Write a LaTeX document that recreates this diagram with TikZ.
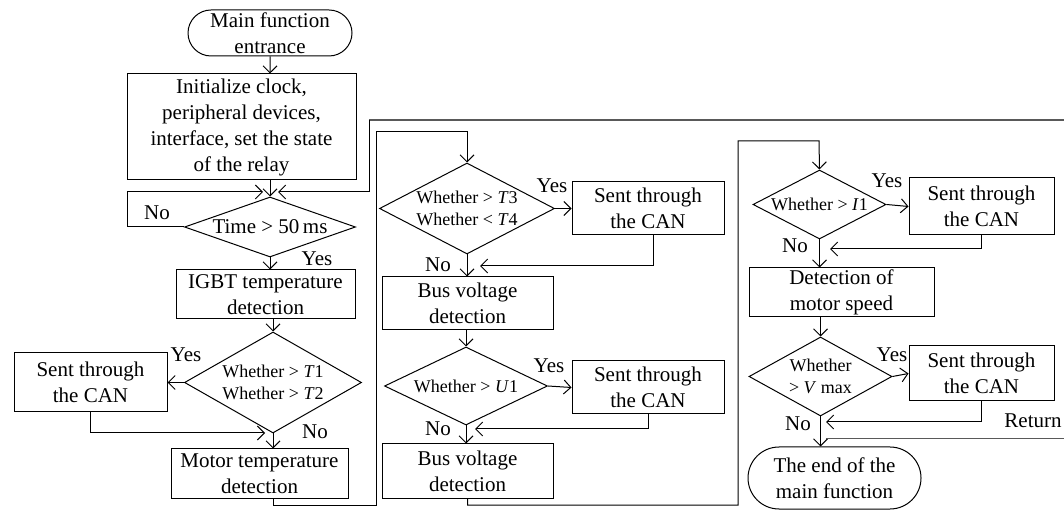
\documentclass[tikz,border=0pt]{standalone}
\usepackage{fontspec}
\setmainfont{Liberation Serif}
\usetikzlibrary{arrows.meta,shapes.geometric,shapes.misc}

\begin{document}
\begin{tikzpicture}[x=0.5pt,y=-0.5pt,>={Straight Barb[length=3.5pt,width=7pt]},line width=0.5pt,
every node/.style={font=\fontsize{10.5}{13}\selectfont,align=center,inner sep=0pt},
sz/.style 2 args={minimum width=#1pt,minimum height=#2pt},
box/.style={draw,rectangle},
term/.style={draw,rounded rectangle},
dec/.style={draw,diamond,font=\fontsize{9}{11}\selectfont},
ret/.style={line width=1pt,gray!70!black}]
\useasboundingbox (0,0) rectangle (1064,512);
\node[term,sz={82}{23}] (start) at (270,33) {Main function\\entrance};
\node[box,sz={114.5}{53}] (init) at (241.5,127) {Initialize clock,\\peripheral devices,\\interface, set the state\\of the relay};
\node[dec,sz={85.5}{30},aspect=2.85,font=\fontsize{10.5}{13}\selectfont] (time) at (270,227) {Time > 50\,ms};
\node[box,sz={89.5}{24.5}] (igbt) at (265.5,294.5) {IGBT temperature\\detection};
\node[dec,sz={88.5}{50.5},aspect=1.75] (t12) at (273,382.5) {Whether > \textit{T}1\\Whether > \textit{T}2};
\node[box,sz={76.5}{29.5}] (sa) at (90.5,382.5) {Sent through\\the CAN};
\node[box,sz={88.5}{24.5}] (motor) at (259.5,473.5) {Motor temperature\\detection};
\node[dec,sz={87.5}{45.5},aspect=1.92] (t34) at (467,208.5) {Whether > \textit{T}3\\Whether < \textit{T}4};
\node[box,sz={76}{26.5}] (sb) at (648,208.5) {Sent through\\the CAN};
\node[box,sz={85.5}{26.5}] (bus1) at (467.5,303.5) {Bus voltage\\detection};
\node[dec,sz={81.5}{39},aspect=2.09] (u1) at (466,386) {Whether > \textit{U}1};
\node[box,sz={76}{26.5}] (sc) at (648,387.5) {Sent through\\the CAN};
\node[box,sz={85.5}{27}] (bus2) at (467.5,471) {Bus voltage\\detection};
\node[dec,sz={66.5}{34.5},aspect=1.93] (i1) at (819.5,204.5) {Whether > \textit{I}1};
\node[box,sz={72.5}{28.5}] (sd) at (981.5,206.5) {Sent through\\the CAN};
\node[box,sz={92.5}{24.5}] (det) at (841.5,292.5) {Detection of\\motor speed};
\node[dec,sz={71.5}{39.5},aspect=1.81] (vm) at (820.5,376.5) {Whether\\> \textit{V} max};
\node[box,sz={72.5}{27.5}] (se) at (981.5,373.5) {Sent through\\the CAN};
\node[term,sz={86.5}{31}] (fin) at (834.5,478) {The end of the\\main function};
\node (no1) at (157,213) {No};
\node (yes1) at (317,259) {Yes};
\node (yes2) at (186,355) {Yes};
\node (no2) at (315,432) {No};
\node (yes3) at (552,186) {Yes};
\node (no3) at (438,265) {No};
\node (yes4) at (549,366) {Yes};
\node (no4) at (438,429) {No};
\node (yes5) at (887,181) {Yes};
\node (no5) at (795,246) {No};
\node (yes6) at (892,355) {Yes};
\node (no6) at (798,424) {No};
\node (back) at (1033,421) {Return};
\coordinate (tl) at (263,192);
\coordinate (tr) at (278,192);
\coordinate (ja) at (265,433);
\coordinate (jb) at (480,266);
\coordinate (jc) at (475,429);
\coordinate (jd) at (830,249);
\coordinate (je) at (826,422);
\coordinate (rb) at (826,439);
\coordinate (rbe) at (1064,439);
\coordinate (rte) at (1064,120);
\coordinate (rc) at (369,120);
\draw[->] (start) -- (start.south |- init.north);
\draw[->] (time.north |- init.south) -- (time.north);
\draw[->] (time.west) -| (127,192) -- (tl);
\draw[->] (time.south) -- (time.south |- igbt.north);
\draw[->] (t12.north |- igbt.south) -- (t12.north);
\draw[->] (t12.west) -- (sa.east);
\draw[->] (sa.south) |- (ja);
\draw[->] (t12.south) -- (t12.south |- motor.north);
\draw[->] (t12.south |- motor.south) |- (376,505) |- (467,132) -- (t34.north);
\draw[->] (t34.east) -- (sb.west);
\draw[->] ([xshift=2.5pt]sb.south) |- (jb);
\draw[->] (t34.south) -- (t34.south |- bus1.north);
\draw[->] (u1.north |- bus1.south) -- (u1.north);
\draw[->] (u1.east) -- (sc.west);
\draw[->] (sc.south) |- (jc);
\draw[->] (u1.south) -- (u1.south |- bus2.north);
\draw[->] (bus2.south) |- (738,505) |- (819,141) -- (i1.north);
\draw[->] (i1.east) -- (sd.west);
\draw[->] (sd.south) |- (jd);
\draw[->] (i1.south) -- (i1.south |- det.north);
\draw[->] (vm.north |- det.south) -- (vm.north);
\draw[->] (vm.east) -- (se.west);
\draw[->] (se.south) |- (je);
\draw[->] (vm.south) -- (vm.south |- fin.north);
\draw[gray!70!black] (rb) -- (rbe);
\draw[ret] (rte) -- (rc);
\draw[->] (rc) |- (tr);
\end{tikzpicture}
\end{document}
